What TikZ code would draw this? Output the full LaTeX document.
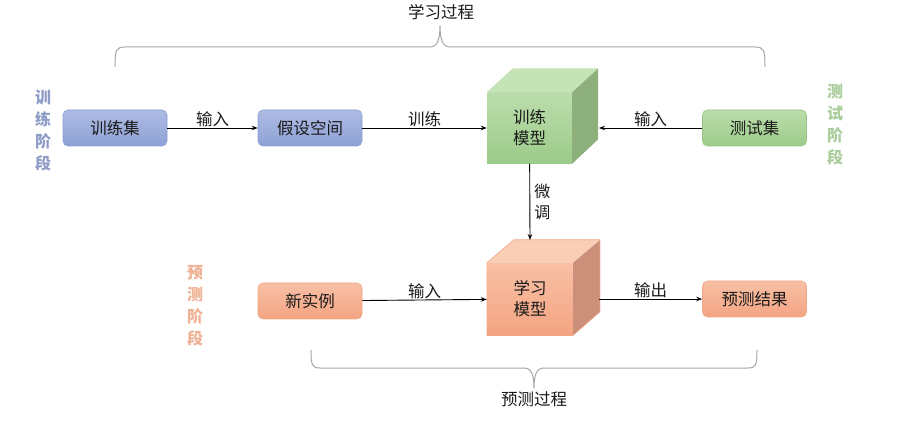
\documentclass[tikz,border=0pt]{standalone}
\usepackage{fontspec}
\setmainfont{Noto Sans CJK SC}
\usetikzlibrary{arrows.meta}
\definecolor{bluetop}{HTML}{AEBCE4}
\definecolor{bluebot}{HTML}{8EA1D5}
\definecolor{blueline}{HTML}{8C9ED2}
\definecolor{greentop}{HTML}{BCDDAC}
\definecolor{greenbot}{HTML}{9BCB89}
\definecolor{greenline}{HTML}{97C486}
\definecolor{greentopface}{HTML}{C6E2B7}
\definecolor{greenside}{HTML}{8DB07D}
\definecolor{orangetop}{HTML}{F8C0A5}
\definecolor{orangebot}{HTML}{F4A482}
\definecolor{orangeline}{HTML}{F2A886}
\definecolor{orangetopface}{HTML}{F9CDB6}
\definecolor{orangeside}{HTML}{CC907A}
\definecolor{bluelabel}{HTML}{8E9CC6}
\definecolor{greenlabel}{HTML}{A9CD9A}
\definecolor{orangelabel}{HTML}{EFB193}
\definecolor{bracegray}{HTML}{A6A6A6}
\definecolor{txt}{HTML}{1A1A1A}
\begin{document}
\begin{tikzpicture}[x=1pt,y=-1pt,
  every node/.style={font=\fontsize{16.5}{19}\selectfont,text=txt},
  boxbase/.style={rounded corners=5pt,minimum width=104pt,minimum height=36pt,inner sep=0pt,line width=0.6pt},
  bluebox/.style={boxbase,draw=blueline,top color=bluetop,bottom color=bluebot},
  greenbox/.style={boxbase,draw=greenline,top color=greentop,bottom color=greenbot},
  orangebox/.style={boxbase,draw=orangeline,top color=orangetop,bottom color=orangebot},
  arr/.style={-{Stealth[length=6pt,width=4.5pt]},line width=0.9pt,black},
  lbl/.style={inner sep=1pt},
  vlabel/.style={align=center,font=\fontsize{16}{22}\selectfont\bfseries},
  brace/.style={draw=bracegray,line width=1pt,line join=round}
]
\useasboundingbox (0,0) rectangle (911,422);
\fill[white] (0,0) rectangle (911,422);

% top title and brace
\node (ttl) at (441,12) {学习过程};
\draw[brace] (115,67) .. controls (115,50) and (116,47) .. (125,47) -- (430,47)
  .. controls (437,47) and (440,40) .. (440,26)
  .. controls (440,40) and (443,47) .. (450,47) -- (755,47)
  .. controls (764,47) and (765,50) .. (765,67);

% bottom brace and title
\draw[brace] (311,350) .. controls (311,365) and (312,368) .. (320,368) -- (524,368)
  .. controls (531,368) and (534,374) .. (534,388)
  .. controls (534,374) and (537,368) .. (544,368) -- (748,368)
  .. controls (756,368) and (757,365) .. (757,350);
\node (btl) at (534,399) {预测过程};

% vertical labels
\node[vlabel,text=bluelabel] (lt) at (43,130) {训\\练\\阶\\段};
\node[vlabel,text=greenlabel] (lr) at (835,125) {测\\试\\阶\\段};
\node[vlabel,text=orangelabel] (lp) at (195,306) {预\\测\\阶\\段};

% boxes
\node[bluebox] (train) at (115,128) {训练集};
\node[bluebox] (hyp) at (310,128) {假设空间};
\node[greenbox] (test) at (754.5,128) {测试集};
\node[orangebox] (newi) at (310,301) {新实例};
\node[orangebox] (res) at (754.5,299) {预测结果};

% green cube
\node[minimum width=85pt,minimum height=71pt,inner sep=0pt,top color=greentop,bottom color=greenbot,align=center,font=\fontsize{16.5}{21}\selectfont] (gcube) at (529.5,128) {训练\\模型};
\fill[greentopface] (gcube.north west) -- ++(26,-24) -- ++(85,0) -- (gcube.north east) -- cycle;
\fill[greenside] (gcube.north east) -- ++(26,-24) -- ++(0,71) -- (gcube.south east) -- cycle;

% orange cube
\node[minimum width=86pt,minimum height=72pt,inner sep=0pt,top color=orangetop,bottom color=orangebot,align=center,font=\fontsize{16.5}{21}\selectfont] (ocube) at (530,299) {学习\\模型};
\fill[orangetopface] (ocube.north west) -- ++(27,-23) -- ++(86,0) -- (ocube.north east) -- cycle;
\fill[orangeside] (ocube.north east) -- ++(27,-23) -- ++(0,72) -- (ocube.south east) -- cycle;
\draw[orangeline,line width=0.6pt] (ocube.north west) -- ++(27,-23) -- ++(86,0) -- ++(0,72) -- (ocube.south east) -- (ocube.south west) -- cycle;
\coordinate (gright) at (599,128);
\coordinate (otop) at (530,240);
\coordinate (oright) at (599,299);

% connectors
\draw[arr] (train) -- node[lbl,above] {输入} (hyp);
\draw[arr] (hyp) -- node[lbl,above] {训练} (gcube);
\draw[arr] (test) -- node[lbl,above] {输入} (gright);
\draw[arr] (gcube) -- node[lbl,right,align=center,font=\fontsize{16}{21}\selectfont,xshift=3pt] {微\\调} (otop);
\draw[arr] (newi) -- node[lbl,above] {输入} (ocube);
\draw[arr] (oright) -- node[lbl,above] {输出} (res);
\end{tikzpicture}
\end{document}
